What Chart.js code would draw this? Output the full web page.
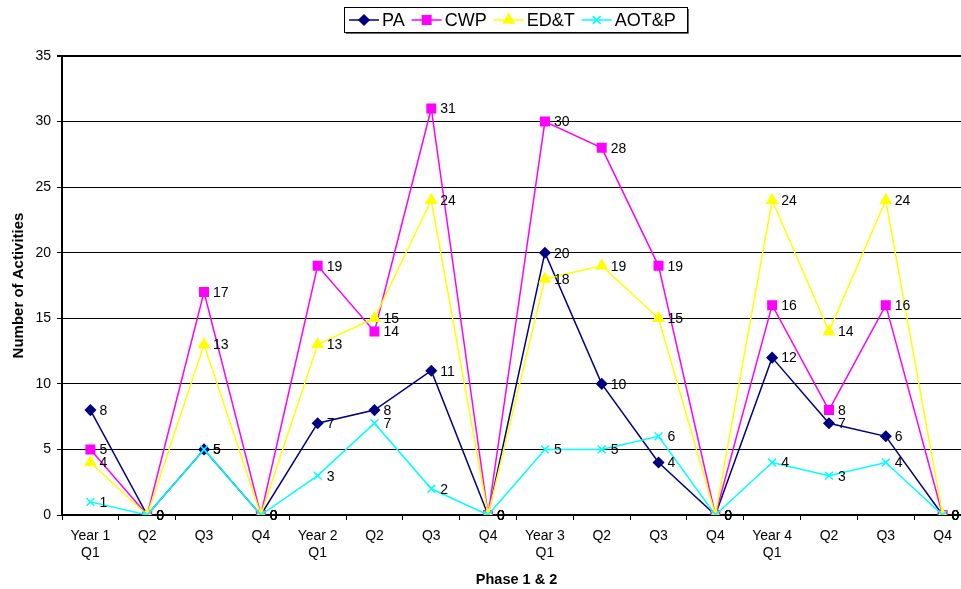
<!DOCTYPE html>
<html>
<head>
<meta charset="utf-8">
<script src="https://cdn.jsdelivr.net/npm/chart.js@4/dist/chart.umd.min.js"></script>
<style>
  html, body { margin: 0; padding: 0; background: #fff; overflow: hidden; }
  #wrap { width: 1000px; height: 589px; }
</style>
</head>
<body>
<div id="wrap"><canvas id="activityChart" width="1000" height="589"></canvas></div>
<script>
// quarters across the two phases
const quarterLabels = [
  ["Year 1", "Q1"], "Q2", "Q3", "Q4",
  ["Year 2", "Q1"], "Q2", "Q3", "Q4",
  ["Year 3", "Q1"], "Q2", "Q3", "Q4",
  ["Year 4", "Q1"], "Q2", "Q3", "Q4",
];

const paValues   = [8, 0, 5, 0, 7, 8, 11, 0, 20, 10, 4, 0, 12, 7, 6, 0];
const cwpValues  = [5, 0, 17, 0, 19, 14, 31, 0, 30, 28, 19, 0, 16, 8, 16, 0];
const edtValues  = [4, 0, 13, 0, 13, 15, 24, 0, 18, 19, 15, 0, 24, 14, 24, 0];
const aotpValues = [1, 0, 5, 0, 3, 7, 2, 0, 5, 5, 6, 0, 4, 3, 4, 0];

const yTicks = [0, 5, 10, 15, 20, 25, 30, 35];

const FONT = "'Liberation Sans', Arial, sans-serif";

function makeSeries(label, data, color, pointStyle, radius, order) {
  return {
    label: label,
    data: data,
    borderColor: color,
    backgroundColor: color,
    pointBackgroundColor: color,
    pointBorderColor: color,
    pointStyle: pointStyle,
    pointRadius: radius,
    pointBorderWidth: 1.5,
    borderWidth: 1.5,
    tension: 0,
    fill: false,
    order: order,
  };
}

// value labels to the right of every point
const pointLabels = {
  id: "pointLabels",
  afterDatasetsDraw(chart) {
    const ctx = chart.ctx;
    ctx.save();
    ctx.font = "14px " + FONT;
    ctx.fillStyle = "#000";
    ctx.textAlign = "left";
    ctx.textBaseline = "middle";
    chart.data.datasets.forEach((ds, i) => {
      chart.getDatasetMeta(i).data.forEach((pt, j) => {
        ctx.fillText(String(ds.data[j]), pt.x + 9, pt.y + 1);
      });
    });
    ctx.restore();
  },
};

// boxed legend and axis titles, placed like the original
const decorations = {
  id: "decorations",
  afterDraw(chart) {
    const ctx = chart.ctx;
    const area = chart.chartArea;
    ctx.save();

    // axis titles
    ctx.fillStyle = "#000";
    ctx.textAlign = "center";
    ctx.textBaseline = "middle";
    ctx.font = "bold 14.5px " + FONT;
    ctx.fillText("Phase 1 & 2", (area.left + area.right) / 2, 580);
    ctx.save();
    ctx.font = "bold 15px " + FONT;
    ctx.translate(18.5, (area.top + area.bottom) / 2);
    ctx.rotate(-Math.PI / 2);
    ctx.fillText("Number of Activities", 0, 0);
    ctx.restore();

    // legend
    const cy = 20;
    let x = 349;
    ctx.font = "18px " + FONT;
    ctx.textAlign = "left";
    chart.data.datasets.forEach((ds) => {
      ctx.strokeStyle = ds.borderColor;
      ctx.fillStyle = ds.borderColor;
      ctx.lineWidth = 1.5;
      ctx.beginPath();
      ctx.moveTo(x, cy);
      ctx.lineTo(x + 30, cy);
      ctx.stroke();
      Chart.helpers.drawPoint(ctx, {
        pointStyle: ds.pointStyle,
        radius: ds.pointRadius,
        rotation: 0,
        borderWidth: 1.5,
      }, x + 15, cy);
      x += 33;
      ctx.fillStyle = "#000";
      ctx.fillText(ds.label, x, cy + 1);
      x += ctx.measureText(ds.label).width + 7;
    });
    ctx.strokeStyle = "#000";
    ctx.lineWidth = 1;
    ctx.strokeRect(344.5, 7.5, 343, 25);
    ctx.strokeStyle = "#666";
    ctx.beginPath();
    ctx.moveTo(346, 33.5);
    ctx.lineTo(688.5, 33.5);
    ctx.lineTo(688.5, 9);
    ctx.stroke();

    ctx.restore();
  },
};

new Chart(document.getElementById("activityChart").getContext("2d"), {
  type: "line",
  data: {
    labels: quarterLabels,
    datasets: [
      makeSeries("PA", paValues, "#000080", "rectRot", 5, 3),
      makeSeries("CWP", cwpValues, "#FF00FF", "rect", 6, 2),
      makeSeries("ED&T", edtValues, "#FFFF00", "triangle", 6, 1),
      makeSeries("AOT&P", aotpValues, "#00FFFF", "crossRot", 5.5, 0),
    ],
  },
  options: {
    responsive: false,
    animation: false,
    devicePixelRatio: 1,
    layout: { padding: { top: 56, right: 29, left: 0, bottom: 0 } },
    plugins: {
      legend: { display: false },
      tooltip: { enabled: false },
      title: { display: false },
    },
    scales: {
      x: {
        type: "category",
        offset: true,
        afterFit(scale) { scale.height = 74; },
        grid: {
          offset: true,
          drawOnChartArea: false,
          drawTicks: true,
          tickLength: 5,
          color: "#000",
          lineWidth: 1,
        },
        border: { display: true, color: "#000", width: 2 },
        ticks: {
          color: "#000",
          font: { family: FONT, size: 14, lineHeight: 1.2 },
          maxRotation: 0,
          autoSkip: false,
          padding: 8,
        },
      },
      y: {
        min: yTicks[0],
        max: yTicks[yTicks.length - 1],
        afterFit(scale) { scale.width = 62; },
        afterBuildTicks(scale) { scale.ticks = yTicks.map((v) => ({ value: v })); },
        grid: {
          color: "#000",
          lineWidth: (c) => (c.tick && c.tick.value === 35 ? 2 : 1),
          tickLength: 5,
        },
        border: { display: true, color: "#000", width: 2 },
        ticks: {
          color: "#000",
          font: { family: FONT, size: 14 },
          padding: 6,
        },
      },
    },
  },
  plugins: [pointLabels, decorations],
});
</script>
</body>
</html>
